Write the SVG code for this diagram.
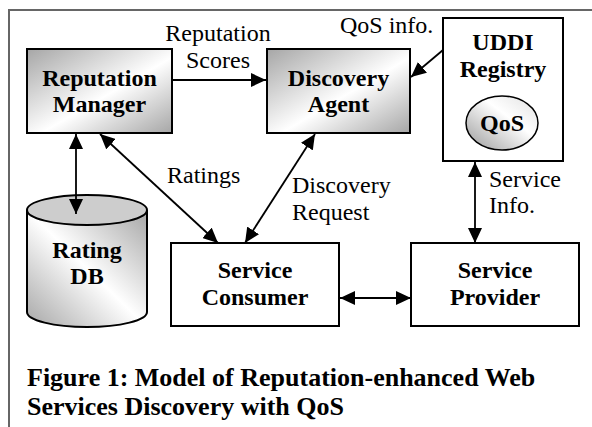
<svg xmlns="http://www.w3.org/2000/svg" width="592" height="427" viewBox="0 0 592 427">
<style>
.box{stroke:#000;stroke-width:2;}
.t{font-family:"Liberation Serif","Times New Roman",serif;font-size:24px;fill:#000;}
.b{font-weight:bold;text-anchor:middle;}
.cap{font-family:"Liberation Serif","Times New Roman",serif;font-size:26px;font-weight:bold;fill:#000;}
.ln{stroke:#000;stroke-width:1.8;fill:none;}
</style>
<defs>
<linearGradient id="g1" x1="0" y1="0" x2="1" y2="1">
<stop offset="0" stop-color="#a6a6a6"/>
<stop offset="0.55" stop-color="#ffffff"/>
<stop offset="1" stop-color="#a6a6a6"/>
</linearGradient>
<linearGradient id="g2" x1="1" y1="0" x2="0" y2="1">
<stop offset="0" stop-color="#a6a6a6"/>
<stop offset="0.5" stop-color="#ffffff"/>
<stop offset="1" stop-color="#a6a6a6"/>
</linearGradient>
<linearGradient id="g3" x1="0" y1="1" x2="1" y2="0">
<stop offset="0" stop-color="#999"/>
<stop offset="0.6" stop-color="#ffffff"/>
<stop offset="1" stop-color="#e0e0e0"/>
</linearGradient>
<marker id="ah" viewBox="0 0 15 14" refX="15" refY="7" markerWidth="15" markerHeight="14" markerUnits="userSpaceOnUse" orient="auto-start-reverse">
<path d="M0,0 L15,7 L0,14 z" fill="#000"/>
</marker>
</defs>
<g id="frame">
<path d="M9,427 L9,10 L592,10" fill="none" stroke="#666" stroke-width="2"/>
</g>
<g id="reputation-manager">
<rect class="box" x="27" y="49" width="145" height="84" fill="url(#g1)"/>
<text class="t b" x="99.5" y="86">Reputation</text>
<text class="t b" x="99.5" y="112">Manager</text>
</g>
<g id="discovery-agent">
<rect class="box" x="267" y="49" width="143" height="84" fill="url(#g1)"/>
<text class="t b" x="338.5" y="86">Discovery</text>
<text class="t b" x="338.5" y="112">Agent</text>
</g>
<g id="uddi-registry">
<rect class="box" x="443" y="18" width="120" height="143" fill="#fff"/>
<text class="t b" x="503" y="50">UDDI</text>
<text class="t b" x="503" y="77">Registry</text>
</g>
<g id="qos">
<ellipse cx="502" cy="123" rx="36" ry="27" fill="url(#g3)" stroke="#000" stroke-width="1.5"/>
<text class="t b" x="502" y="131">QoS</text>
</g>
<g id="rating-db">
<path d="M27,210 L27,312 A60,15 0 0 0 147,312 L147,210" fill="url(#g2)" stroke="#000" stroke-width="2"/>
<ellipse cx="87" cy="210" rx="60" ry="15" fill="#cdcdcd" stroke="#000" stroke-width="2"/>
<text class="t b" x="87" y="258">Rating</text>
<text class="t b" x="87" y="284">DB</text>
</g>
<g id="service-consumer">
<rect class="box" x="171" y="243" width="168" height="83" fill="#fff"/>
<text class="t b" x="255" y="278">Service</text>
<text class="t b" x="255" y="305">Consumer</text>
</g>
<g id="service-provider">
<rect class="box" x="411" y="243" width="168" height="83" fill="#fff"/>
<text class="t b" x="495" y="278">Service</text>
<text class="t b" x="495" y="305">Provider</text>
</g>
<g id="connectors">
<line class="ln" x1="172" y1="80" x2="266" y2="80" marker-end="url(#ah)"/>
<line class="ln" x1="443" y1="50" x2="411" y2="77" marker-end="url(#ah)"/>
<line class="ln" x1="76" y1="134" x2="76" y2="214" marker-start="url(#ah)" marker-end="url(#ah)"/>
<line class="ln" x1="100" y1="134" x2="218" y2="243" marker-start="url(#ah)" marker-end="url(#ah)"/>
<line class="ln" x1="315" y1="134" x2="245" y2="243" marker-start="url(#ah)" marker-end="url(#ah)"/>
<line class="ln" x1="475" y1="162" x2="475" y2="243" marker-start="url(#ah)" marker-end="url(#ah)"/>
<line class="ln" x1="340" y1="298" x2="411" y2="298" marker-start="url(#ah)" marker-end="url(#ah)"/>
<text class="t" x="218" y="41" text-anchor="middle">Reputation</text>
<text class="t" x="218" y="68" text-anchor="middle">Scores</text>
<text class="t" x="340" y="33">QoS info.</text>
<text class="t" x="167" y="183">Ratings</text>
<text class="t" x="292" y="193">Discovery</text>
<text class="t" x="292" y="220">Request</text>
<text class="t" x="489" y="187">Service</text>
<text class="t" x="489" y="213">Info.</text>
</g>
<g id="caption">
<text class="cap" x="27" y="386">Figure 1: Model of Reputation-enhanced Web</text>
<text class="cap" x="27" y="415">Services Discovery with QoS</text>
</g>
</svg>
